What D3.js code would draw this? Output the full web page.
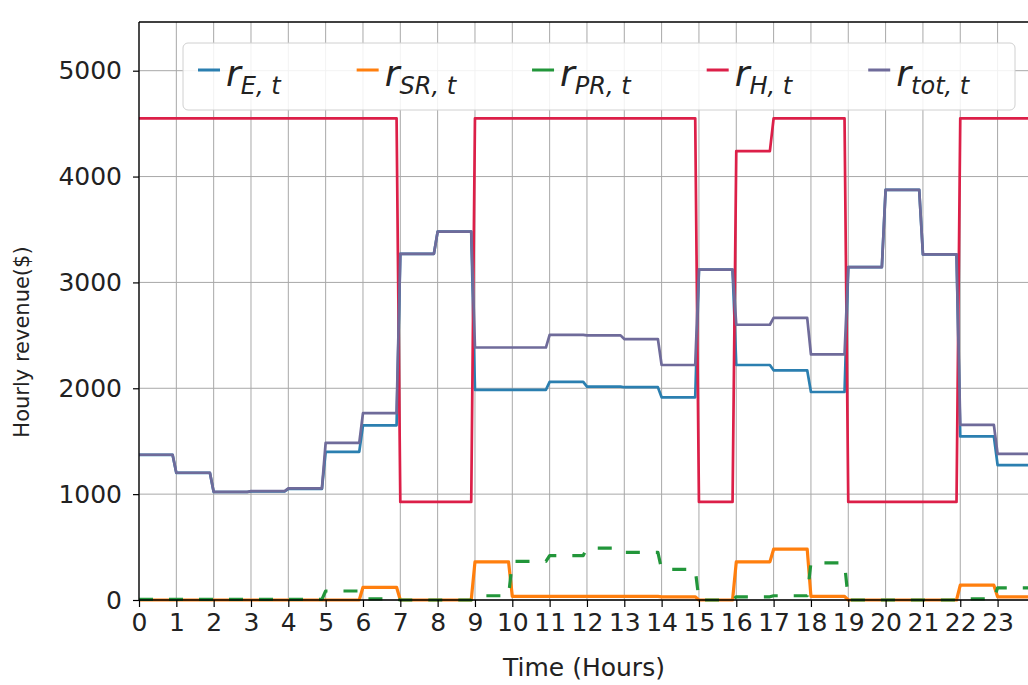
<!DOCTYPE html>
<html>
<head>
<meta charset="utf-8">
<script src="https://cdn.jsdelivr.net/npm/d3@7"></script>
<style>
body{margin:0;background:#fff}
svg{display:block}
text{font-family:"DejaVu Sans",sans-serif;fill:#222}
</style>
</head>
<body>
<div id="chart"></div>
<script>
// hourly data
const hours = [0,1,2,3,4,5,6,7,8,9,10,11,12,13,14,15,16,17,18,19,20,21,22,23];
const rE   = [1370,1200,1020,1025,1050,1400,1650,3270,3480,1985,1985,2060,2015,2010,1915,3120,2220,2170,1965,3145,3875,3265,1545,1275];
const rSR  = [0,0,0,0,0,0,120,0,0,360,35,35,35,35,30,0,360,480,35,0,0,0,140,30];
const rPR  = [5,5,5,5,5,85,10,0,0,40,365,420,490,450,290,0,30,40,350,0,0,0,10,115];
const rH   = [4550,4550,4550,4550,4550,4550,4550,926,926,4550,4550,4550,4550,4550,4550,926,4240,4550,4550,926,926,926,4550,4550];
const rTot = [1372,1202,1022,1028,1055,1485,1765,3270,3480,2385,2385,2505,2500,2465,2220,3120,2600,2665,2320,3145,3875,3265,1655,1380];
const yTicks = [0,1000,2000,3000,4000,5000];
const seriesSubs = ["E, t","SR, t","PR, t","H, t","tot, t"];

const colors = ["#2b7fb0","#ff7f0e","#22963a","#dc1f48","#6f6b9a"];
const allSeries = [rE, rSR, rPR, rH, rTot];

const width = 1028, height = 685;
const svg = d3.select("#chart").append("svg")
    .attr("width", width)
    .attr("height", height);

//scales
const x = d3.scaleLinear().domain([0,24]).range([139, 139 + 24*37.33]);
const y = d3.scaleLinear().domain([0,5460]).range([600,22]);

//grid
svg.append("g")
    .selectAll("line")
    .data(hours)
    .enter().append("line")
    .attr("x1", d => x(d)).attr("x2", d => x(d))
    .attr("y1", y(5460)).attr("y2", y(0))
    .attr("stroke", "#a8a8a8").attr("stroke-width", 1);
svg.append("g")
    .selectAll("line")
    .data(yTicks)
    .enter().append("line")
    .attr("x1", x(0)).attr("x2", width)
    .attr("y1", d => y(d)).attr("y2", d => y(d))
    .attr("stroke", "#a8a8a8").attr("stroke-width", 1);

//lines, each hour held then ramps to next
svg.append("clipPath").attr("id","clip")
    .append("rect").attr("x", x(0)).attr("y", y(5460))
    .attr("width", width - x(0)).attr("height", y(0) - y(5460) + 4);

const line = d3.line().x(d => x(d[0])).y(d => y(d[1]));
const stepPoints = vals => {
  const pts = [];
  hours.forEach((h,i) => { pts.push([h, vals[i]]); pts.push([h + 0.9, vals[i]]); });
  return pts;
};

const lines = svg.append("g").attr("clip-path","url(#clip)");
allSeries.forEach((vals,i) => {
  lines.append("path")
      .datum(stepPoints(vals))
      .attr("fill","none")
      .attr("stroke", colors[i])
      .attr("stroke-width", i === 1 || i === 2 ? 3.2 : 2.7)
      .attr("stroke-dasharray", i === 2 ? "14,16" : null)
      .attr("stroke-linejoin","round")
      .attr("d", line);
});

//axes
const yAxis = svg.append("g")
    .attr("transform","translate(" + x(0) + ",0)")
    .call(d3.axisLeft(y).tickValues(yTicks).tickFormat(d3.format("d")).tickSize(6).tickPadding(11));
const xAxis = svg.append("g")
    .attr("transform","translate(0," + y(0) + ")")
    .call(d3.axisBottom(x).tickValues(hours).tickSize(7).tickPadding(6));
[yAxis, xAxis].forEach(a => {
  a.select(".domain").remove();
  a.selectAll(".tick line").attr("stroke","#000").attr("stroke-width",1.2);
  a.selectAll("text").attr("fill","#222").style("font-family","DejaVu Sans");
});
yAxis.selectAll("text").style("font-size","25px");
xAxis.selectAll("text").style("font-size","25px");

//spines
svg.append("line").attr("x1",x(0)).attr("x2",x(0)).attr("y1",y(5460)).attr("y2",y(0))
    .attr("stroke","#000").attr("stroke-width",1.3);
svg.append("line").attr("x1",x(0)).attr("x2",width).attr("y1",y(5460)).attr("y2",y(5460))
    .attr("stroke","#000").attr("stroke-width",1.3);
svg.append("line").attr("x1",x(0)).attr("x2",width).attr("y1",y(0)).attr("y2",y(0))
    .attr("stroke","#000").attr("stroke-width",1.3);

//axis labels
svg.append("text")
    .attr("x", 584).attr("y", 676)
    .attr("text-anchor","middle")
    .style("font-size","25px")
    .text("Time (Hours)");
svg.append("text")
    .attr("transform","translate(29,342) rotate(-90)")
    .attr("text-anchor","middle")
    .style("font-size","21px")
    .text("Hourly revenue($)");

//legend
const legend = svg.append("g");
legend.append("rect")
    .attr("x",183).attr("y",43).attr("width",832).attr("height",67)
    .attr("rx",5)
    .attr("fill","#fff").attr("fill-opacity",0.85)
    .attr("stroke","#d0d0d0");
let lx = 198;
seriesSubs.forEach((s,i) => {
  legend.append("line")
      .attr("x1",lx).attr("x2",lx+22).attr("y1",70).attr("y2",70)
      .attr("stroke",colors[i]).attr("stroke-width",3);
  const t = legend.append("text")
      .attr("x",lx+28).attr("y",86)
      .style("font-style","italic");
  t.append("tspan").style("font-size","36px").text("r");
  t.append("tspan").style("font-size","24px").attr("dy",8).text(s);
  lx += 28 + t.node().getComputedTextLength() + 76;
});
</script>
</body>
</html>
